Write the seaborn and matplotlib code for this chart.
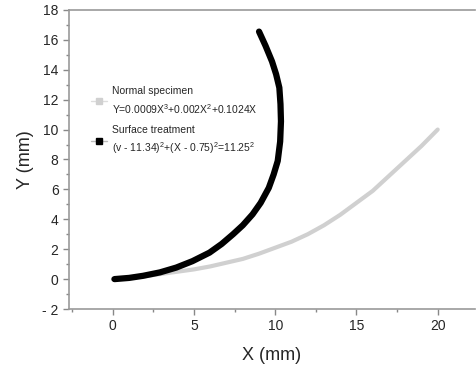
import numpy as np
import pandas as pd
import seaborn as sns
import matplotlib.pyplot as plt
from matplotlib.lines import Line2D
from matplotlib.ticker import MultipleLocator

# values
normal_x = [0, 1, 2, 3, 4, 5, 6, 7, 8, 9, 10, 11, 12, 13, 14, 15, 16, 17, 18, 19, 20]
normal_y = [0, 0.1, 0.2, 0.35, 0.5, 0.65, 0.85, 1.1, 1.35, 1.7, 2.1, 2.5, 3.0,
            3.6, 4.3, 5.1, 5.9, 6.9, 7.9, 8.9, 10.0]

surface_x = [0.1, 1.0, 1.86, 2.9, 3.9, 4.9, 5.95, 6.7, 7.4, 8.0, 8.6, 9.1,
             9.6, 9.9, 10.15, 10.3, 10.35, 10.32, 10.25, 10.05, 9.8, 9.4, 9.0]
surface_y = [0.0, 0.08, 0.22, 0.45, 0.77, 1.2, 1.77, 2.35, 3.0, 3.6, 4.33, 5.1,
             6.1, 7.0, 7.9, 9.2, 10.55, 11.7, 12.8, 13.7, 14.55, 15.6, 16.55]

normal_label = "Normal specimen\nY=0.0009X$^3$+0.002X$^2$+0.1024X"
surface_label = "Surface treatment\n(v - 11.34)$^2$+(X - 0.75)$^2$=11.25$^2$"

sns.set_style("white")
plt.rcParams["font.family"] = ["Liberation Sans", "DejaVu Sans"]
plt.rcParams["mathtext.fontset"] = "custom"
plt.rcParams["mathtext.rm"] = "Liberation Sans"

fig = plt.figure(figsize=(4.76, 3.67), dpi=100)
ax = fig.add_axes([0.145, 0.158, 0.853, 0.815])

df_n = pd.DataFrame({"x": normal_x, "y": normal_y})
df_s = pd.DataFrame({"x": surface_x, "y": surface_y})
sns.lineplot(data=df_n, x="x", y="y", ax=ax, color="#d0d0d0", lw=3,
             sort=False, estimator=None)
sns.lineplot(data=df_s, x="x", y="y", ax=ax, color="black", lw=4.5,
             sort=False, estimator=None)

ax.set_xlim(-2.7, 22.3)
ax.set_ylim(-2, 18)
ax.xaxis.set_major_locator(MultipleLocator(5))
ax.xaxis.set_minor_locator(MultipleLocator(2.5))
ax.yaxis.set_minor_locator(MultipleLocator(1))
ax.set_yticks(range(-2, 19, 2))
ax.set_yticklabels(["- 2"] + [str(v) for v in range(0, 19, 2)])
ax.tick_params(which="both", direction="out", color="#888888", labelsize=10)
ax.tick_params(which="major", length=4, width=1, left=True, bottom=True)
ax.tick_params(which="minor", length=2.5, width=1, left=True, bottom=True)
for side in ["left", "bottom", "top"]:
    ax.spines[side].set_color("#999999")
    ax.spines[side].set_linewidth(1.2)
ax.spines["right"].set_visible(False)
ax.set_xlabel("X (mm)", fontsize=13, labelpad=10)
ax.set_ylabel("Y (mm)", fontsize=13, labelpad=6)

handles = [
    Line2D([], [], color="#dddddd", lw=1, marker="s", ms=5,
           markerfacecolor="#d0d0d0", markeredgecolor="#d0d0d0"),
    Line2D([], [], color="#bbbbbb", lw=1, marker="s", ms=4,
           markerfacecolor="black", markeredgecolor="black"),
]
leg = ax.legend(handles, [normal_label, surface_label], loc="upper left",
                bbox_to_anchor=(0.035, 0.77), frameon=False, fontsize=7.5,
                handlelength=1.6, handletextpad=0.5, labelspacing=0.85,
                borderpad=0.2)
for t in leg.get_texts():
    t.set_linespacing(1.5)

fig.savefig("out.png", dpi=100)
